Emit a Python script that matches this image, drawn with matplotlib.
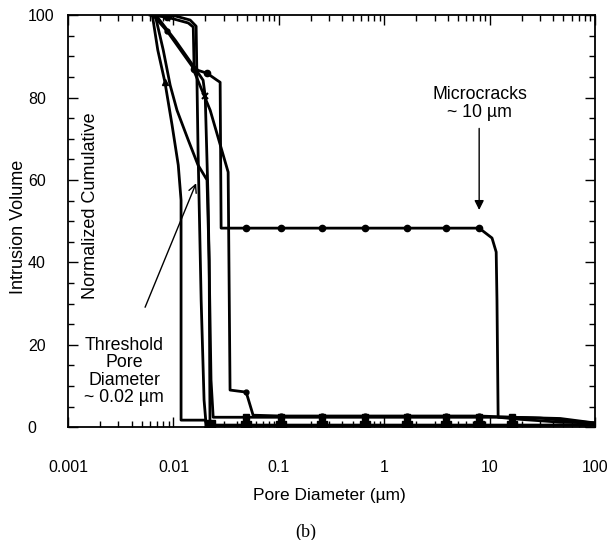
import numpy as np
import matplotlib.pyplot as plt
from matplotlib import rcParams
from matplotlib.ticker import FixedLocator, LogLocator, NullFormatter, MultipleLocator

rcParams['font.family'] = ['Liberation Sans', 'DejaVu Sans']
rcParams['font.size'] = 11

# curve data (pore diameter in um, normalized volume in %)
d_a = [0.0060, 0.0087, 0.0138, 0.0154, 0.0157, 0.0208, 0.0259, 0.0277, 0.0283,
       0.0489, 0.105, 0.257, 0.658, 1.64, 3.86, 7.93, 10.5, 11.5, 11.7, 12.0,
       19.4, 46.6, 100]
v_a = [100, 99.5, 98.1, 97.1, 86.9, 85.9, 84.2, 83.7, 48.3,
       48.3, 48.3, 48.3, 48.3, 48.3, 48.3, 48.3, 45.9, 42.5, 30.8, 2.4,
       1.9, 1.2, 1.0]

d_b = [0.0064, 0.0087, 0.0150, 0.0223, 0.0330, 0.0344, 0.0489, 0.0569, 0.105,
       0.257, 0.658, 1.64, 3.86, 7.93, 16.3, 30.1, 46.6, 100]
v_b = [100, 96.1, 87.6, 76.9, 61.9, 9.0, 8.5, 2.9, 2.7,
       2.7, 2.7, 2.7, 2.7, 2.7, 2.4, 2.2, 1.7, 1.0]

d_c = [0.0063, 0.0071, 0.0083, 0.0097, 0.0111, 0.0118, 0.0118, 0.0200, 0.0208,
       0.0489, 0.105, 0.257, 0.658, 1.64, 3.86, 7.93, 16.3, 46.6, 100]
v_c = [100, 91.5, 83.7, 73.3, 63.6, 55.1, 1.7, 1.7, 0.5,
       0.5, 0.5, 0.5, 0.5, 0.5, 0.5, 0.5, 0.5, 0.5, 0.5]

d_d = [0.0067, 0.0080, 0.0093, 0.0108, 0.0138, 0.0171, 0.0208, 0.0218, 0.0222,
       0.0489, 0.105, 0.257, 0.658, 1.64, 3.86, 7.93, 16.3, 46.6, 100]
v_d = [100, 91.5, 83.0, 76.9, 69.7, 63.6, 60.0, 40.5, 0.4,
       0.3, 0.3, 0.3, 0.3, 0.3, 0.3, 0.3, 0.3, 0.5, 0.5]

d_e = [0.0063, 0.0104, 0.0144, 0.0164, 0.0171, 0.0183, 0.0195, 0.0204]
v_e = [100, 99.8, 98.8, 97.3, 67.2, 30.8, 6.6, 0.5]

d_f = [0.0068, 0.0104, 0.0160, 0.0191, 0.0200, 0.0213, 0.0227, 0.0238,
       0.0489, 0.105, 0.257, 0.658, 1.64, 3.86, 7.93, 16.3, 46.6, 100]
v_f = [100, 93.9, 87.1, 84.2, 80.3, 55.1, 11.4, 2.4,
       2.4, 2.4, 2.4, 2.4, 2.4, 2.4, 2.4, 2.4, 2.1, 1.0]

x_ticks = [0.001, 0.01, 0.1, 1, 10, 100]
x_tick_labels = ['0.001', '0.01', '0.1', '1', '10', '100']
y_ticks = [0, 20, 40, 60, 80, 100]

fig = plt.figure(figsize=(6.13, 5.40), dpi=100)
ax = fig.add_axes([0.111, 0.209, 0.860, 0.763])

lw = 2.0
ax.plot(d_a, v_a, color='black', lw=lw, marker='o', ms=4.5,
        markevery=[1, 4, 5, 9, 10, 11, 12, 13, 14, 15])
ax.plot(d_b, v_b, color='black', lw=lw, marker='o', ms=3.5,
        markevery=[1, 6, 8, 9, 10, 11, 12, 13, 14])
ax.plot(d_c, v_c, color='black', lw=lw, marker='^', ms=4,
        markevery=[2, 8, 9, 10, 11, 12, 13, 14, 15, 16])
ax.plot(d_d, v_d, color='black', lw=lw, marker='s', ms=6.5,
        markevery=[8, 9, 10, 11, 12, 13, 14, 15, 16])
ax.plot(d_e, v_e, color='black', lw=lw)
ax.plot(d_f, v_f, color='black', lw=lw, marker='x', ms=5, mew=1.5,
        markevery=[4])
ax.plot(d_f[8:16], v_f[8:16], ls='none', color='black', marker='s', ms=4.5)

ax.set_xscale('log')
ax.set_xlim(0.001, 100)
ax.set_ylim(0, 100)
ax.xaxis.set_major_locator(FixedLocator(x_ticks))
ax.set_xticklabels(x_tick_labels)
ax.xaxis.set_minor_locator(LogLocator(base=10, subs=np.arange(2, 10)))
ax.xaxis.set_minor_formatter(NullFormatter())
ax.set_yticks(y_ticks)
ax.yaxis.set_minor_locator(MultipleLocator(5))

for s in ax.spines.values():
    s.set_linewidth(1.3)
ax.tick_params(which='both', direction='in', top=True, right=True, width=1.0)
ax.tick_params(which='major', length=7)
ax.tick_params(which='minor', length=4)
ax.tick_params(axis='x', which='major', pad=24, labelsize=11.5)
ax.tick_params(axis='y', which='major', pad=29, labelsize=11.5)
for lab in ax.get_yticklabels():
    lab.set_horizontalalignment('left')

fig.text(0.030, 0.580, 'Intrusion Volume', rotation=90, ha='center', va='center', fontsize=13)
fig.text(0.147, 0.620, 'Normalized Cumulative', rotation=90, ha='center', va='center', fontsize=13)
fig.text(0.538, 0.083, 'Pore Diameter (µm)', ha='center', va='center', fontsize=12.5)
fig.text(0.499, 0.015, '(b)', ha='center', va='center', fontsize=13, family='Liberation Serif')

ax.text(8.0, 78.6, 'Microcracks\n~ 10 µm', ha='center', va='center', fontsize=12.8,
        linespacing=1.1)
ax.annotate('', xy=(7.93, 52.7), xytext=(7.93, 72.5),
            arrowprops=dict(arrowstyle='-|>', color='black', lw=1.0,
                            mutation_scale=14, shrinkA=0, shrinkB=0))

ax.text(0.0034, 13.5, 'Threshold\nPore\nDiameter\n~ 0.02 µm', ha='center', va='center',
        fontsize=12.8, linespacing=1.05)
ax.annotate('', xy=(0.0164, 59.2), xytext=(0.00538, 29.1),
            arrowprops=dict(arrowstyle='->', color='black', lw=1.0,
                            mutation_scale=14, shrinkA=0, shrinkB=0))

fig.savefig('out.png', dpi=100)
